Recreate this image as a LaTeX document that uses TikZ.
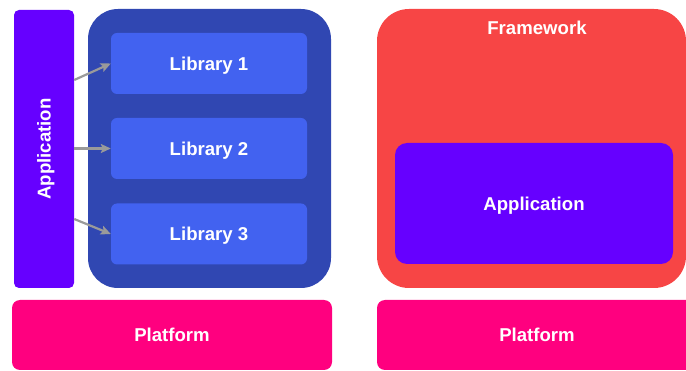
\documentclass[tikz,border=0pt]{standalone}
\usepackage{fontspec}
\setmainfont{Liberation Sans}
\usetikzlibrary{arrows.meta}
\definecolor{apppurple}{HTML}{6600FF}
\definecolor{libcont}{HTML}{3047B2}
\definecolor{libbox}{HTML}{4262F0}
\definecolor{fwred}{HTML}{F74545}
\definecolor{platpink}{HTML}{FF007F}
\definecolor{arrgray}{HTML}{9A9A9A}
\tikzset{
  box/.style={rectangle, inner sep=0pt, text=white, text depth=0pt, font=\fontsize{18.6}{21}\selectfont\bfseries},
  conn/.style={draw=arrgray, line width=2.2pt, -{Stealth[length=10pt,width=9pt,inset=2pt]}},
}
\begin{document}
\begin{tikzpicture}[x=1pt,y=-1pt]
\useasboundingbox (0,0) rectangle (686,371);
% left side
\node[box, fill=libcont, rounded corners=30pt, minimum width=243pt, minimum height=279pt] (cont) at (209.5,148.5) {};
\node[box, fill=libbox, rounded corners=6pt, minimum width=196pt, minimum height=61pt] (lib1) at (209,63.5) {Library 1};
\node[box, fill=libbox, rounded corners=6pt, minimum width=196pt, minimum height=61pt] (lib2) at (209,148.5) {Library 2};
\node[box, fill=libbox, rounded corners=6pt, minimum width=196pt, minimum height=61pt] (lib3) at (209,234) {Library 3};
\node[box, fill=apppurple, rounded corners=5pt, minimum width=60pt, minimum height=278pt] (app) at (44,149) {};
\node[box, rotate=90] (applabel) at (app.center) {Application};
\node[box, fill=platpink, rounded corners=8pt, minimum width=320pt, minimum height=70pt] (plat1) at (172,335) {Platform};
\draw[conn] (app.east |- 0,80) -- (lib1.west);
\draw[conn] (app.east |- lib2.west) -- (lib2.west);
\draw[conn] (app.east |- 0,219) -- (lib3.west);
% right side
\node[box, fill=fwred, rounded corners=32pt, minimum width=309pt, minimum height=279pt] (fw) at (531.5,148.5) {};
\node[box] (fwlabel) at (537,28) {Framework};
\node[box, fill=apppurple, rounded corners=12pt, minimum width=278pt, minimum height=121pt] (app2) at (534,203.5) {Application};
\node[box, fill=platpink, rounded corners=8pt, minimum width=320pt, minimum height=70pt] (plat2) at (537,335) {Platform};
\end{tikzpicture}
\end{document}
